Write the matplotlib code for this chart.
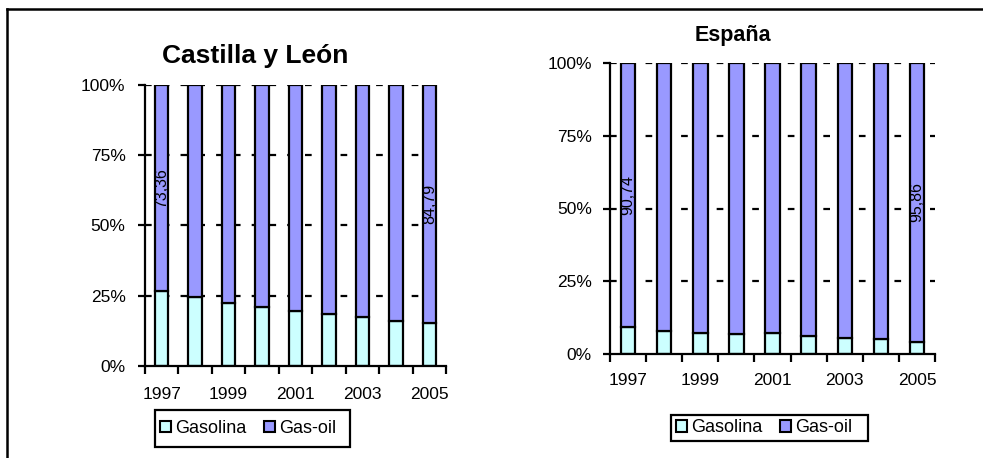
import numpy as np
import matplotlib
matplotlib.use("Agg")
import matplotlib.pyplot as plt
from matplotlib.patches import Patch, Rectangle
from matplotlib.lines import Line2D

plt.rcParams['font.family'] = ['Liberation Sans', 'DejaVu Sans']

years = ['1997', '1998', '1999', '2000', '2001', '2002', '2003', '2004', '2005']
year_labels = ['1997', '', '1999', '', '2001', '', '2003', '', '2005']

# consumo de carburantes (%)
cyl_gasolina = [26.64, 24.4, 22.5, 21.1, 19.7, 18.4, 17.3, 16.0, 15.21]
cyl_gasoil = [73.36, 75.6, 77.5, 78.9, 80.3, 81.6, 82.7, 84.0, 84.79]
esp_gasolina = [9.26, 8.0, 7.3, 6.8, 7.1, 6.3, 5.6, 5.0, 4.14]
esp_gasoil = [90.74, 92.0, 92.7, 93.2, 92.9, 93.7, 94.4, 95.0, 95.86]

# indices de las barras con etiqueta de valor
labelled = [0, 8]

COL_GASOLINA = '#CCFFFF'
COL_GASOIL = '#9999FF'
W, H = 983, 458


def stacked_panel(ax, gasolina, gasoil, ypad, xpad):
    g = np.array(gasolina)
    o = np.array(gasoil)
    tot = g + o
    gp = g / tot * 100
    op = o / tot * 100
    x = np.arange(len(years))
    ax.bar(x, gp, width=0.4, color=COL_GASOLINA, edgecolor='black', linewidth=1.6, zorder=2)
    ax.bar(x, op, width=0.4, bottom=gp, color=COL_GASOIL, edgecolor='black', linewidth=1.6, zorder=2)
    for i in labelled:
        ax.text(x[i], gp[i] + op[i] / 2, f"{o[i]:.2f}".replace('.', ','),
                rotation=90, ha='center', va='center', fontsize=11.5, zorder=3)

    ax.set_xlim(-0.5, len(years) - 0.5)
    ax.set_ylim(0, 100)
    ax.set_yticks([0, 25, 50, 75, 100])
    ax.set_yticklabels(['0%', '25%', '50%', '75%', '100%'])
    for yv in [25, 50, 75, 100]:
        ax.axhline(yv, color='black', lw=1.6, linestyle=(0, (3, 5)), zorder=1)

    # ticks en los limites de categoria, etiquetas en el centro
    ax.set_xticks(np.arange(len(years) + 1) - 0.5)
    ax.set_xticklabels([])
    ax.set_xticks(x, minor=True)
    ax.set_xticklabels(year_labels, minor=True)
    ax.tick_params(axis='x', which='major', length=6, width=1.6, direction='out')
    ax.tick_params(axis='x', which='minor', length=0, pad=xpad, labelsize=12.5)
    ax.tick_params(axis='y', length=5, width=1.6, direction='out', pad=ypad, labelsize=12.5)

    for s in ['top', 'right']:
        ax.spines[s].set_visible(False)
    for s in ['left', 'bottom']:
        ax.spines[s].set_linewidth(1.6)
        ax.spines[s].set_zorder(4)


fig = plt.figure(figsize=(W / 100, H / 100), dpi=100)

ax1 = fig.add_axes([145 / W, 1 - 366 / H, 301 / W, 281 / H])
stacked_panel(ax1, cyl_gasolina, cyl_gasoil, ypad=9, xpad=15)

ax2 = fig.add_axes([610 / W, 1 - 354 / H, 325 / W, 291 / H])
stacked_panel(ax2, esp_gasolina, esp_gasoil, ypad=8, xpad=14)

fig.text(255 / W, 1 - 63 / H, 'Castilla y León', ha='center', va='baseline',
         fontsize=19, fontweight='bold')
fig.text(733 / W, 1 - 40.5 / H, 'España', ha='center', va='baseline',
         fontsize=15.5, fontweight='bold')

handles = [Patch(facecolor=COL_GASOLINA, edgecolor='black', linewidth=1.5, label='Gasolina'),
           Patch(facecolor=COL_GASOIL, edgecolor='black', linewidth=1.5, label='Gas-oil')]

# cajas de leyenda en pixeles: x0, y0 (arriba), ancho, alto
for x0, y0, bw, bh in [(155, 410, 195, 37), (671, 415, 197, 26)]:
    fig.add_artist(Rectangle((x0 / W, 1 - (y0 + bh) / H), bw / W, bh / H,
                             transform=fig.transFigure, fill=False, ec='black', lw=1.6))
    fig.legend(handles=handles, loc='center left',
               bbox_to_anchor=((x0 + 5) / W, 1 - (y0 + bh / 2) / H),
               ncol=2, fontsize=13, frameon=False,
               handlelength=0.6, handleheight=0.6,
               handletextpad=0.25, columnspacing=0.95, borderpad=0, borderaxespad=0)

# marco exterior (solo izquierda y arriba visibles)
fig.add_artist(Line2D([7 / W, 7 / W], [0, 1 - 9 / H], color='black', lw=1.8))
fig.add_artist(Line2D([7 / W, 1], [1 - 9 / H, 1 - 9 / H], color='black', lw=1.8))

fig.savefig('out.png', dpi=100)
